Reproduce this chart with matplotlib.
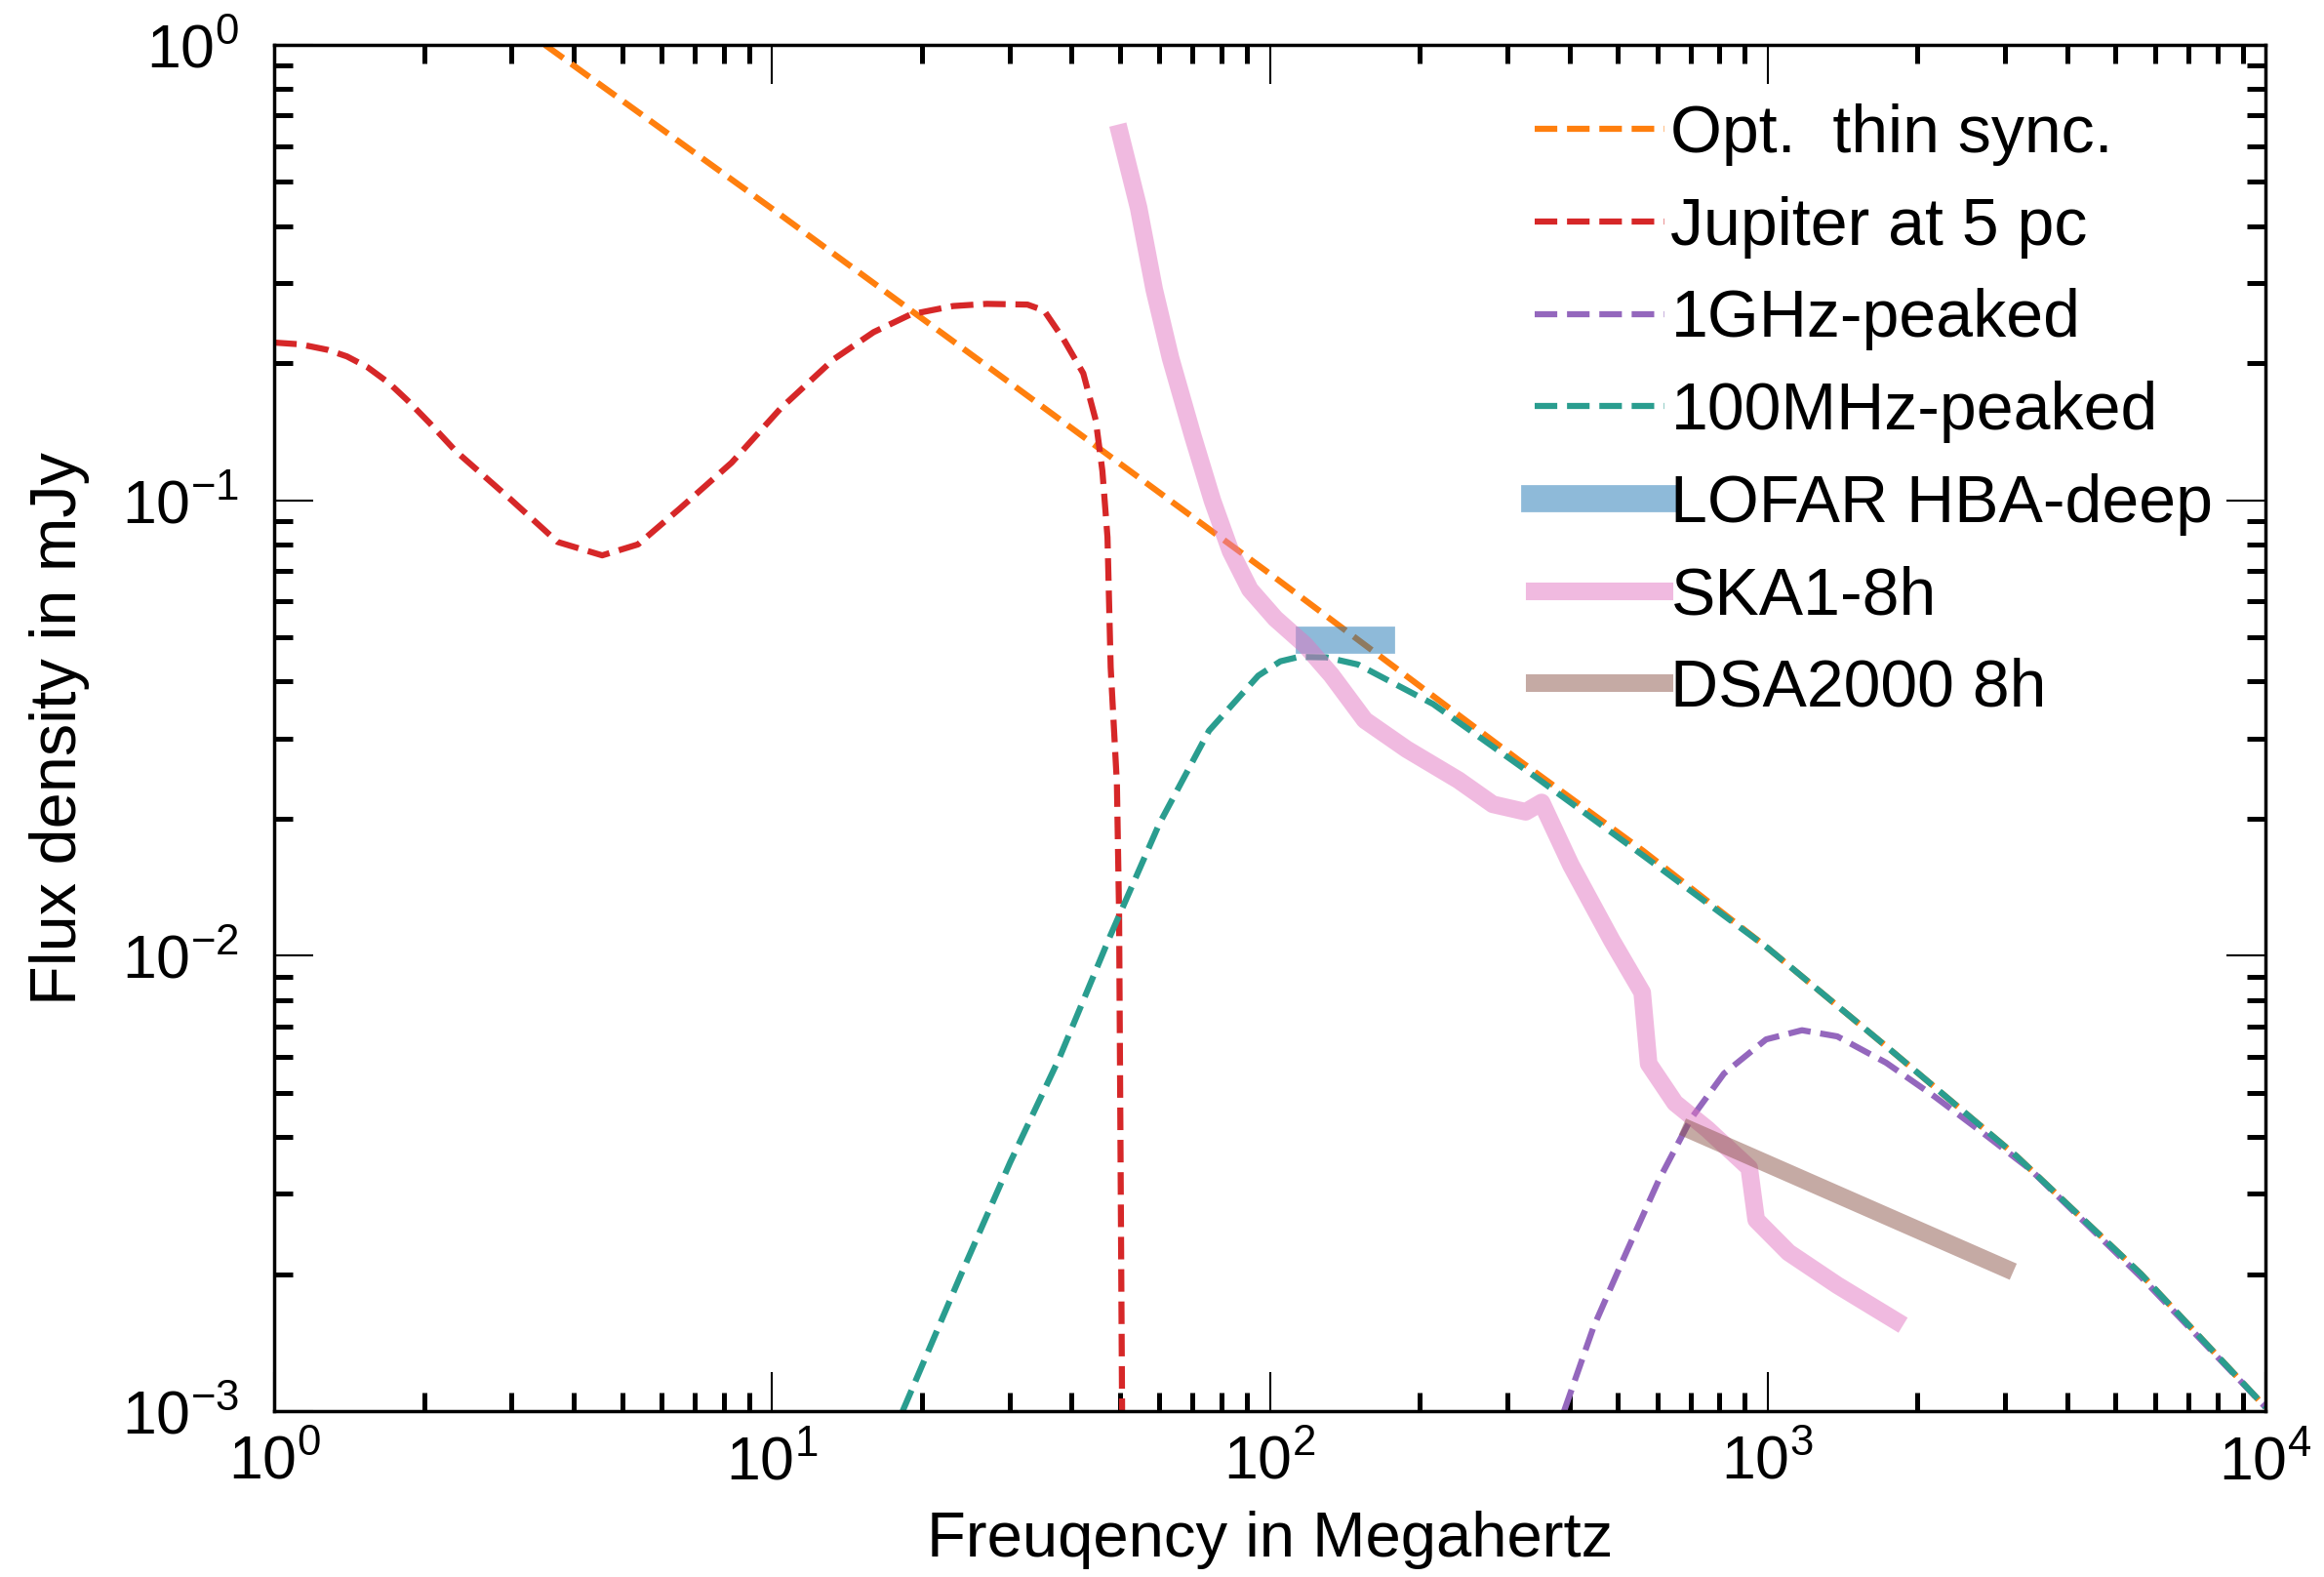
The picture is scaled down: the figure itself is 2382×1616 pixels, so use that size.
import numpy as np
import matplotlib
matplotlib.use('Agg')
import matplotlib.pyplot as plt
from matplotlib.ticker import LogLocator, FuncFormatter, NullFormatter

plt.rcParams['font.family'] = ['Liberation Sans', 'DejaVu Sans']

# Optically thin synchrotron (MHz, mJy)
sync_freq = [3.5, 10, 31.6, 100, 316, 562, 1000, 1778, 3162, 5623, 10000]
sync_flux = [1.0, 0.437, 0.174, 0.069, 0.0269, 0.0170, 0.0104, 0.00617, 0.00363, 0.00200, 0.00102]

# Jupiter at 5 pc
jup_freq = [1.0, 1.13, 1.28, 1.4, 1.54, 1.7, 1.85, 2.05, 2.32, 2.97, 3.71, 4.56, 5.38, 6.50, 8.30,
            10.4, 13.3, 16.0, 19.0, 23.1, 27.0, 32.6, 35.2, 38.5, 42.2, 44.7, 46.1, 47.2, 47.9,
            49.3, 49.8, 50.5]
jup_flux = [0.222, 0.220, 0.214, 0.207, 0.196, 0.181, 0.166, 0.148, 0.128, 0.101, 0.081, 0.0757,
            0.080, 0.0955, 0.121, 0.159, 0.204, 0.234, 0.256, 0.267, 0.270, 0.269, 0.261, 0.226,
            0.190, 0.150, 0.116, 0.083, 0.043, 0.0239, 0.0124, 0.001]

# 1 GHz-peaked source
ghz_freq = [390, 447, 520, 604, 701, 817, 993, 1172, 1380, 1730, 2168, 2716, 3373, 5623, 10000]
ghz_flux = [0.001, 0.00153, 0.00223, 0.00321, 0.00438, 0.00551, 0.00655, 0.00686, 0.00665,
            0.00582, 0.0049, 0.00407, 0.00339, 0.00197, 0.00102]

# 100 MHz-peaked source
mhz_freq = [18.3, 23.9, 30.1, 37.8, 47.6, 60.0, 75.5, 94.8, 105, 114.3, 130, 150.3, 212.8, 345,
            562, 1000, 1778, 3162, 5623, 10000]
mhz_flux = [0.001, 0.00198, 0.00352, 0.00597, 0.01094, 0.0195, 0.0312, 0.0412, 0.0443, 0.0453,
            0.0452, 0.0436, 0.0357, 0.0245, 0.0166, 0.0104, 0.00617, 0.00363, 0.00200, 0.00102]

# LOFAR HBA-deep sensitivity
lofar_freq = [120, 168]
lofar_flux = [0.0494, 0.0494]

# SKA1 8h sensitivity
ska_freq = [50.0, 54.5, 58.6, 63.2, 70.1, 76.7, 83.4, 91.2, 102.6, 117.8, 133.0, 155.2, 188.4,
            239.3, 280.5, 326.6, 351.6, 402.7, 486.4, 559.8, 576.8, 651.6, 756.8, 918.3, 948.4,
            1101.6, 1380.4, 1807]
ska_flux = [0.64, 0.439, 0.290, 0.205, 0.138, 0.0998, 0.0773, 0.0637, 0.0550, 0.0481, 0.0413,
            0.0329, 0.0284, 0.0243, 0.0215, 0.0207, 0.0217, 0.0158, 0.0108, 0.0083, 0.00579,
            0.00475, 0.00416, 0.00342, 0.00263, 0.00223, 0.00189, 0.00158]

# DSA2000 8h sensitivity
dsa_freq = [700, 3000]
dsa_flux = [0.00414, 0.00206]

fig = plt.figure(figsize=(23.82, 16.16), dpi=100)
ax = fig.add_axes([281 / 2382, 1 - 1446 / 1616, 2041 / 2382, 1400 / 1616])

dash_lw = 4.5
ax.plot(sync_freq, sync_flux, '--', color='tab:orange', lw=dash_lw, label='Opt.  thin sync.')
ax.plot(jup_freq, jup_flux, '--', color='tab:red', lw=dash_lw, label='Jupiter at 5 pc')
ax.plot(ghz_freq, ghz_flux, '--', color='tab:purple', lw=dash_lw, label='1GHz-peaked')
ax.plot(mhz_freq, mhz_flux, '--', color='#2a9d8f', lw=dash_lw, label='100MHz-peaked')
ax.plot(lofar_freq, lofar_flux, '-', color='tab:blue', alpha=0.5, lw=20, label='LOFAR HBA-deep')
ax.plot(ska_freq, ska_flux, '-', color='tab:pink', alpha=0.5, lw=13, label='SKA1-8h')
ax.plot(dsa_freq, dsa_flux, '-', color='tab:brown', alpha=0.5, lw=13, label='DSA2000 8h')

ax.set_xscale('log')
ax.set_yscale('log')
ax.set_xlim(1, 1e4)
ax.set_ylim(1e-3, 1)

fmt = FuncFormatter(lambda v, p: r'$\mathregular{10^{%d}}$' % int(round(np.log10(v))))
for axis in (ax.xaxis, ax.yaxis):
    axis.set_major_locator(LogLocator(base=10, numticks=10))
    axis.set_minor_locator(LogLocator(base=10, subs=np.arange(2, 10), numticks=20))
    axis.set_major_formatter(fmt)
    axis.set_minor_formatter(NullFormatter())

ax.tick_params(which='both', direction='in', top=True, right=True)
ax.tick_params(which='major', length=29, width=1.5, labelsize=45)
ax.tick_params(which='minor', length=14, width=3.6)
ax.tick_params(axis='x', which='major', pad=17)
ax.tick_params(axis='y', which='major', pad=26)
for s in ax.spines.values():
    s.set_linewidth(2.5)

ax.set_xlabel('Freuqency in Megahertz', fontsize=47, labelpad=14)
ax.set_ylabel('Flux density in mJy', fontsize=48, labelpad=24)

ax.legend(loc='upper left', bbox_to_anchor=(0.633, 0.957), frameon=False, fontsize=49,
          handlelength=1.95, handletextpad=0.1, borderpad=0, borderaxespad=0, labelspacing=0.45)

fig.savefig('out.png', dpi=100)
